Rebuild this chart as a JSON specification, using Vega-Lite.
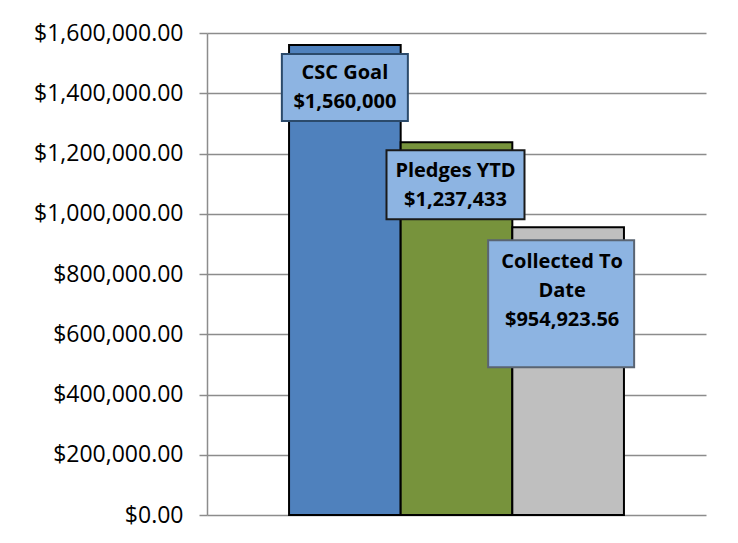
{
  "$schema": "https://vega.github.io/schema/vega-lite/v6.json",
  "width": 499,
  "height": 482,
  "autosize": {"type": "none"},
  "padding": {"left": 207, "top": 33, "right": 32, "bottom": 28},
  "background": "white",
  "config": {"view": {"stroke": null}},
  "data": {"values": [
    {"item": "CSC Goal", "amount": 1560000, "label": "CSC Goal\n$1,560,000"},
    {"item": "Pledges YTD", "amount": 1237433, "label": "Pledges YTD\n$1,237,433"},
    {"item": "Collected To Date", "amount": 954923.56, "label": "Collected To\nDate\n$954,923.56"}
  ]},
  "encoding": {
    "x": {"field": "item", "type": "nominal", "sort": null, "axis": null,
          "scale": {"paddingInner": 0, "paddingOuter": 0.735}},
    "y": {"field": "amount", "type": "quantitative",
          "scale": {"domain": [0, 1600000], "nice": false},
          "axis": {"title": null, "values": [0, 200000, 400000, 600000, 800000, 1000000, 1200000, 1400000, 1600000],
                   "format": "$,.2f", "grid": true, "gridColor": "#8c8c8c", "gridWidth": 1.5,
                   "domainColor": "#8c8c8c", "domainWidth": 1.5, "tickColor": "#8c8c8c", "tickWidth": 1.5,
                   "tickSize": 8, "labelPadding": 16, "labelFont": "Open Sans", "labelFontSize": 23,
                   "labelColor": "#000000"}}
  },
  "layer": [
    {
      "mark": {"type": "bar", "stroke": "#000000", "strokeWidth": 2},
      "encoding": {
        "color": {"field": "item", "type": "nominal", "legend": null,
                  "scale": {"domain": ["CSC Goal", "Pledges YTD", "Collected To Date"],
                            "range": ["#4F81BD", "#77933C", "#BFBFBF"]}}
      }
    },
    {
      "transform": [{"filter": "datum.item === 'CSC Goal'"}],
      "layer": [
        {"mark": {"type": "rect", "width": 126, "height": 67, "yOffset": 42.5, "fill": "#8DB4E2", "stroke": "#2B4A6B", "strokeWidth": 2}},
        {"mark": {"type": "text", "lineBreak": "\n", "font": "Open Sans", "fontWeight": "bold", "fontSize": 20, "lineHeight": 29, "baseline": "middle", "dy": 28, "color": "#000000"},
         "encoding": {"text": {"field": "label"}}}
      ]
    },
    {
      "transform": [{"filter": "datum.item === 'Pledges YTD'"}],
      "layer": [
        {"mark": {"type": "rect", "width": 138, "height": 69, "yOffset": 42.5, "xOffset": -1, "fill": "#8DB4E2", "stroke": "#1A1A1A", "strokeWidth": 2}},
        {"mark": {"type": "text", "lineBreak": "\n", "font": "Open Sans", "fontWeight": "bold", "fontSize": 20, "lineHeight": 29, "baseline": "middle", "dy": 29, "dx": -1, "color": "#000000"},
         "encoding": {"text": {"field": "label"}}}
      ]
    },
    {
      "transform": [{"filter": "datum.item === 'Collected To Date'"}],
      "layer": [
        {"mark": {"type": "rect", "width": 146, "height": 127, "yOffset": 76.5, "xOffset": -7, "fill": "#8DB4E2", "stroke": "#5A6472", "strokeWidth": 2}},
        {"mark": {"type": "text", "lineBreak": "\n", "font": "Open Sans", "fontWeight": "bold", "fontSize": 20, "lineHeight": 29, "baseline": "middle", "dy": 35, "dx": -6, "color": "#000000"},
         "encoding": {"text": {"field": "label"}}}
      ]
    }
  ]
}
